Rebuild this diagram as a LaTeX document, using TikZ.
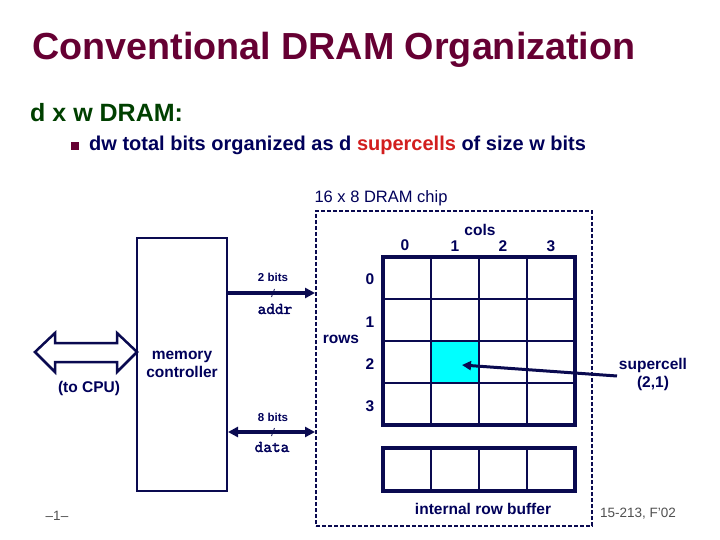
\documentclass[tikz,border=0pt]{standalone}
\usepackage{fontspec}
\setmainfont{Liberation Sans}
\newfontfamily\monob{lmmono10-regular.otf}[FakeBold=2]
\usetikzlibrary{arrows.meta}
\definecolor{navyc}{RGB}{0,0,90}
\definecolor{linec}{RGB}{10,10,80}
\definecolor{titlec}{RGB}{102,0,51}
\definecolor{subc}{RGB}{0,64,0}
\definecolor{redc}{RGB}{210,30,30}
\definecolor{grayc}{RGB}{80,80,80}
\definecolor{cyanc}{RGB}{0,255,255}
\tikzset{
  lbl/.style={text=navyc, inner sep=0pt, font=\bfseries\fontsize{15.5bp}{18bp}\selectfont},
  small/.style={text=navyc, inner sep=0pt, font=\bfseries\fontsize{11.5bp}{13bp}\selectfont},
  mono/.style={text=navyc, inner sep=0pt, font=\monob\fontsize{16.5bp}{18bp}\selectfont},
  cellbox/.style={draw=linec, line width=2bp, minimum width=48bp, minimum height=42bp, inner sep=0pt, outer sep=0pt},
  outerbox/.style={draw=linec, line width=4.5bp},
  bus/.style={draw=linec, line width=4bp},
  tip/.style={-{Triangle[length=10bp,width=10bp]}},
  foot/.style={text=grayc, inner sep=0pt, font=\fontsize{13.5bp}{16bp}\selectfont},
}
\begin{document}
\begin{tikzpicture}[x=1bp,y=-1bp]
\useasboundingbox[fill=white] (0,0) rectangle (720,540);
% title and text
\node[anchor=west, inner sep=0pt, text=titlec, font=\bfseries\fontsize{37.7bp}{44bp}\selectfont] (title) at (32,50) {Conventional DRAM Organization};
\node[anchor=west, inner sep=0pt, text=subc, font=\bfseries\fontsize{25bp}{30bp}\selectfont] (sub) at (30,113) {d x w DRAM:};
\fill[titlec] (71,142) rectangle (79,150);
\node[anchor=west, inner sep=0pt, text=navyc, font=\bfseries\fontsize{20bp}{24bp}\selectfont] (bul) at (89,145) {dw total bits organized as d \textcolor{redc}{supercells} of size w bits};
% memory controller
\node[draw=linec, line width=2bp, minimum width=90bp, minimum height=253bp, align=center, lbl] (ctrl) at (182,364.5) {memory\\controller};
% CPU double arrow
\draw[linec, line width=2.5bp, fill=white, line join=miter] (35,352) -- (55,333) -- (55,343) -- (117,343) -- (117,333) -- (137,352) -- (117,372) -- (117,362) -- (55,362) -- (55,372) -- cycle;
\node[lbl] (cpu) at (89,388) {(to CPU)};
% chip
\node[draw=linec, line width=2bp, dash pattern=on 4bp off 2bp, minimum width=276bp, minimum height=315bp] (chip) at (454,368.5) {};
\node[text=navyc, inner sep=0pt, font=\fontsize{16.5bp}{19bp}\selectfont] (chiplbl) at (381,198) {16 x 8 DRAM chip};
% grid
\fill[cyanc] (431,341) rectangle (479,383);
\foreach \r in {0,...,3}{
  \foreach \c in {0,...,3}{
    \node[cellbox] (c\r\c) at ({407+48*\c},{278+42*\r}) {};
  }
}
\draw[outerbox] (c00.north west) rectangle (c33.south east);
\foreach \c in {0,...,3}{
  \node[cellbox, minimum height=43bp] (b\c) at ({407+48*\c},469.5) {};
}
\draw[outerbox] (b0.north west) rectangle (b3.south east);
\node[lbl] (buflbl) at (483,509) {internal row buffer};
% column / row labels
\node[lbl] (cols) at (480,230) {cols};
\node[lbl] (k0) at (405,245) {0};
\node[lbl] (k1) at (455,246) {1};
\node[lbl] (k2) at (503,246) {2};
\node[lbl] (k3) at (551,246) {3};
\node[lbl] (r0) at (370,279) {0};
\node[lbl] (r1) at (370,322) {1};
\node[lbl] (r2) at (370,364) {2};
\node[lbl] (r3) at (370,406) {3};
\node[lbl] (rows) at (341,339) {rows};
% addr bus
\draw[bus, tip] (ctrl.east |- 0,293) -- (chip.west |- 0,293);
\draw[linec, line width=0.8bp] (271.5,297) -- (274.5,289);
\node[small] (twob) at (273,277) {2 bits};
\node[mono] (addr) at (275,309) {addr};
% data bus
\draw[bus, {Triangle[length=10bp,width=10bp]}-{Triangle[length=10bp,width=10bp]}] (ctrl.east |- 0,432) -- (chip.west |- 0,432);
\draw[linec, line width=0.8bp] (271.5,436) -- (274.5,428);
\node[small] (eightb) at (273,417) {8 bits};
\node[mono] (data) at (272,447) {data};
% supercell
\node[lbl, align=center] (sc) at (653,374) {supercell\\(2,1)};
\coordinate (sctip) at (462,365);
\draw[linec, line width=3bp, -{Triangle[length=9bp,width=9bp]}] (617,376) -- (sctip);
% footer
\node[foot] (pg) at (57,516) {–1–};
\node[foot] (course) at (638,514) {15-213, F'02};
\end{tikzpicture}
\end{document}
